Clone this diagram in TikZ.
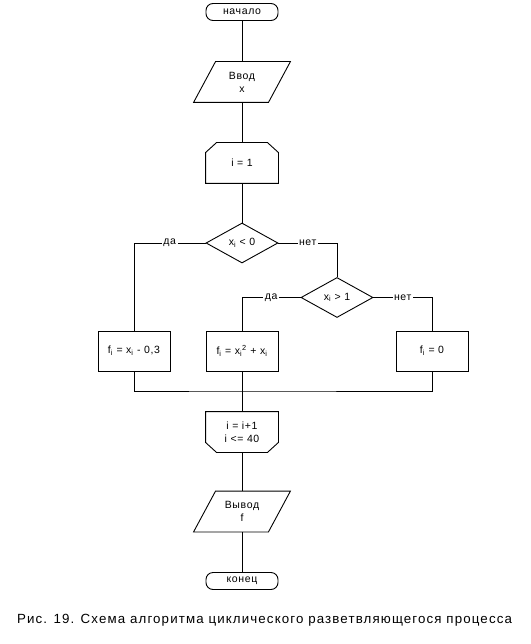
\documentclass[tikz,border=0pt]{standalone}
\usepackage{fontspec}
\setmainfont{Liberation Sans}[LetterSpace=6]
\usetikzlibrary{shapes.geometric}
\begin{document}
\begin{tikzpicture}[x=1pt,y=-1pt, line width=0.9pt,
  every node/.style={font=\fontsize{10.5}{13}\selectfont, align=center},
  term/.style={draw, rounded corners=7pt, minimum width=72pt, minimum height=17pt, inner sep=0pt},
  iobox/.style={minimum width=96pt, minimum height=40pt, inner sep=0pt},
  loopbox/.style={minimum width=72pt, minimum height=40pt, inner sep=0pt},
  procbox/.style={draw, minimum width=72pt, minimum height=40pt, inner sep=0pt},
  decision/.style={draw, diamond, minimum width=72pt, minimum height=40pt, inner sep=0pt},
  lbl/.style={fill=white, inner sep=1.5pt},
]
\useasboundingbox (0,0) rectangle (530,644);

\node[term] (start) at (242,12) {начало};
\node[iobox] (in) at (242,82) {Ввод\\x};
\draw ([xshift=22pt]in.north west) -- (in.north east) -- ([xshift=-22pt]in.south east) -- (in.south west) -- cycle;

\node[loopbox] (init) at (242,163) {i = 1};
\draw (init.south west) -- ([yshift=-10pt]init.north west) -- ([xshift=11pt]init.north west)
  -- ([xshift=-11pt]init.north east) -- ([yshift=-10pt]init.north east) -- (init.south east) -- cycle;

\node[decision] (d1) at (242,243) {x\textsubscript{i} < 0};
\node[decision] (d2) at (337,297.5) {x\textsubscript{i} > 1};

\node[procbox] (f1) at (134,351) {f\textsubscript{i} = x\textsubscript{i} - 0,3};
\node[procbox] (f2) at (242,351) {f\textsubscript{i} = x\textsubscript{i}\textsuperscript{2} + x\textsubscript{i}};
\node[procbox] (f3) at (432,351) {f\textsubscript{i} = 0};

\coordinate (m) at (242,391);

\node[loopbox] (loopend) at (242,432) {i = i+1\\i <= 40};
\draw (loopend.north west) -- (loopend.north east) -- ([yshift=10pt]loopend.south east)
  -- ([xshift=-11pt]loopend.south east) -- ([xshift=11pt]loopend.south west)
  -- ([yshift=10pt]loopend.south west) -- cycle;

\node[iobox] (out) at (242,511.5) {Вывод\\f};
\draw ([xshift=22pt]out.north west) -- (out.north east) -- ([xshift=-22pt]out.south east) -- (out.south west) -- cycle;

\node[term] (end) at (242,581) {конец};

\node[font=\fontsize{13.3}{15}\selectfont\addfontfeature{LetterSpace=8.5}] (cap) at (264.5,620) {Рис. 19. Схема алгоритма циклического разветвляющегося процесса};

\draw (start) -- (in);
\draw (in) -- (init);
\draw (init) -- (d1);
\draw (d1.west) -| node[lbl,pos=0.25]{да} (f1.north);
\draw (d1.east) -| node[lbl,pos=0.25]{нет} (d2.north);
\draw (d2.west) -| node[lbl,pos=0.25]{да} (f2.north);
\draw (d2.east) -| node[lbl,pos=0.25]{нет} (f3.north);
\draw (f1.south) |- (m) -| (f3.south);
\draw (f2.south) -- (m);
\draw (m) -- (loopend);
\draw (loopend) -- (out);
\draw (out) -- (end);
\end{tikzpicture}
\end{document}
